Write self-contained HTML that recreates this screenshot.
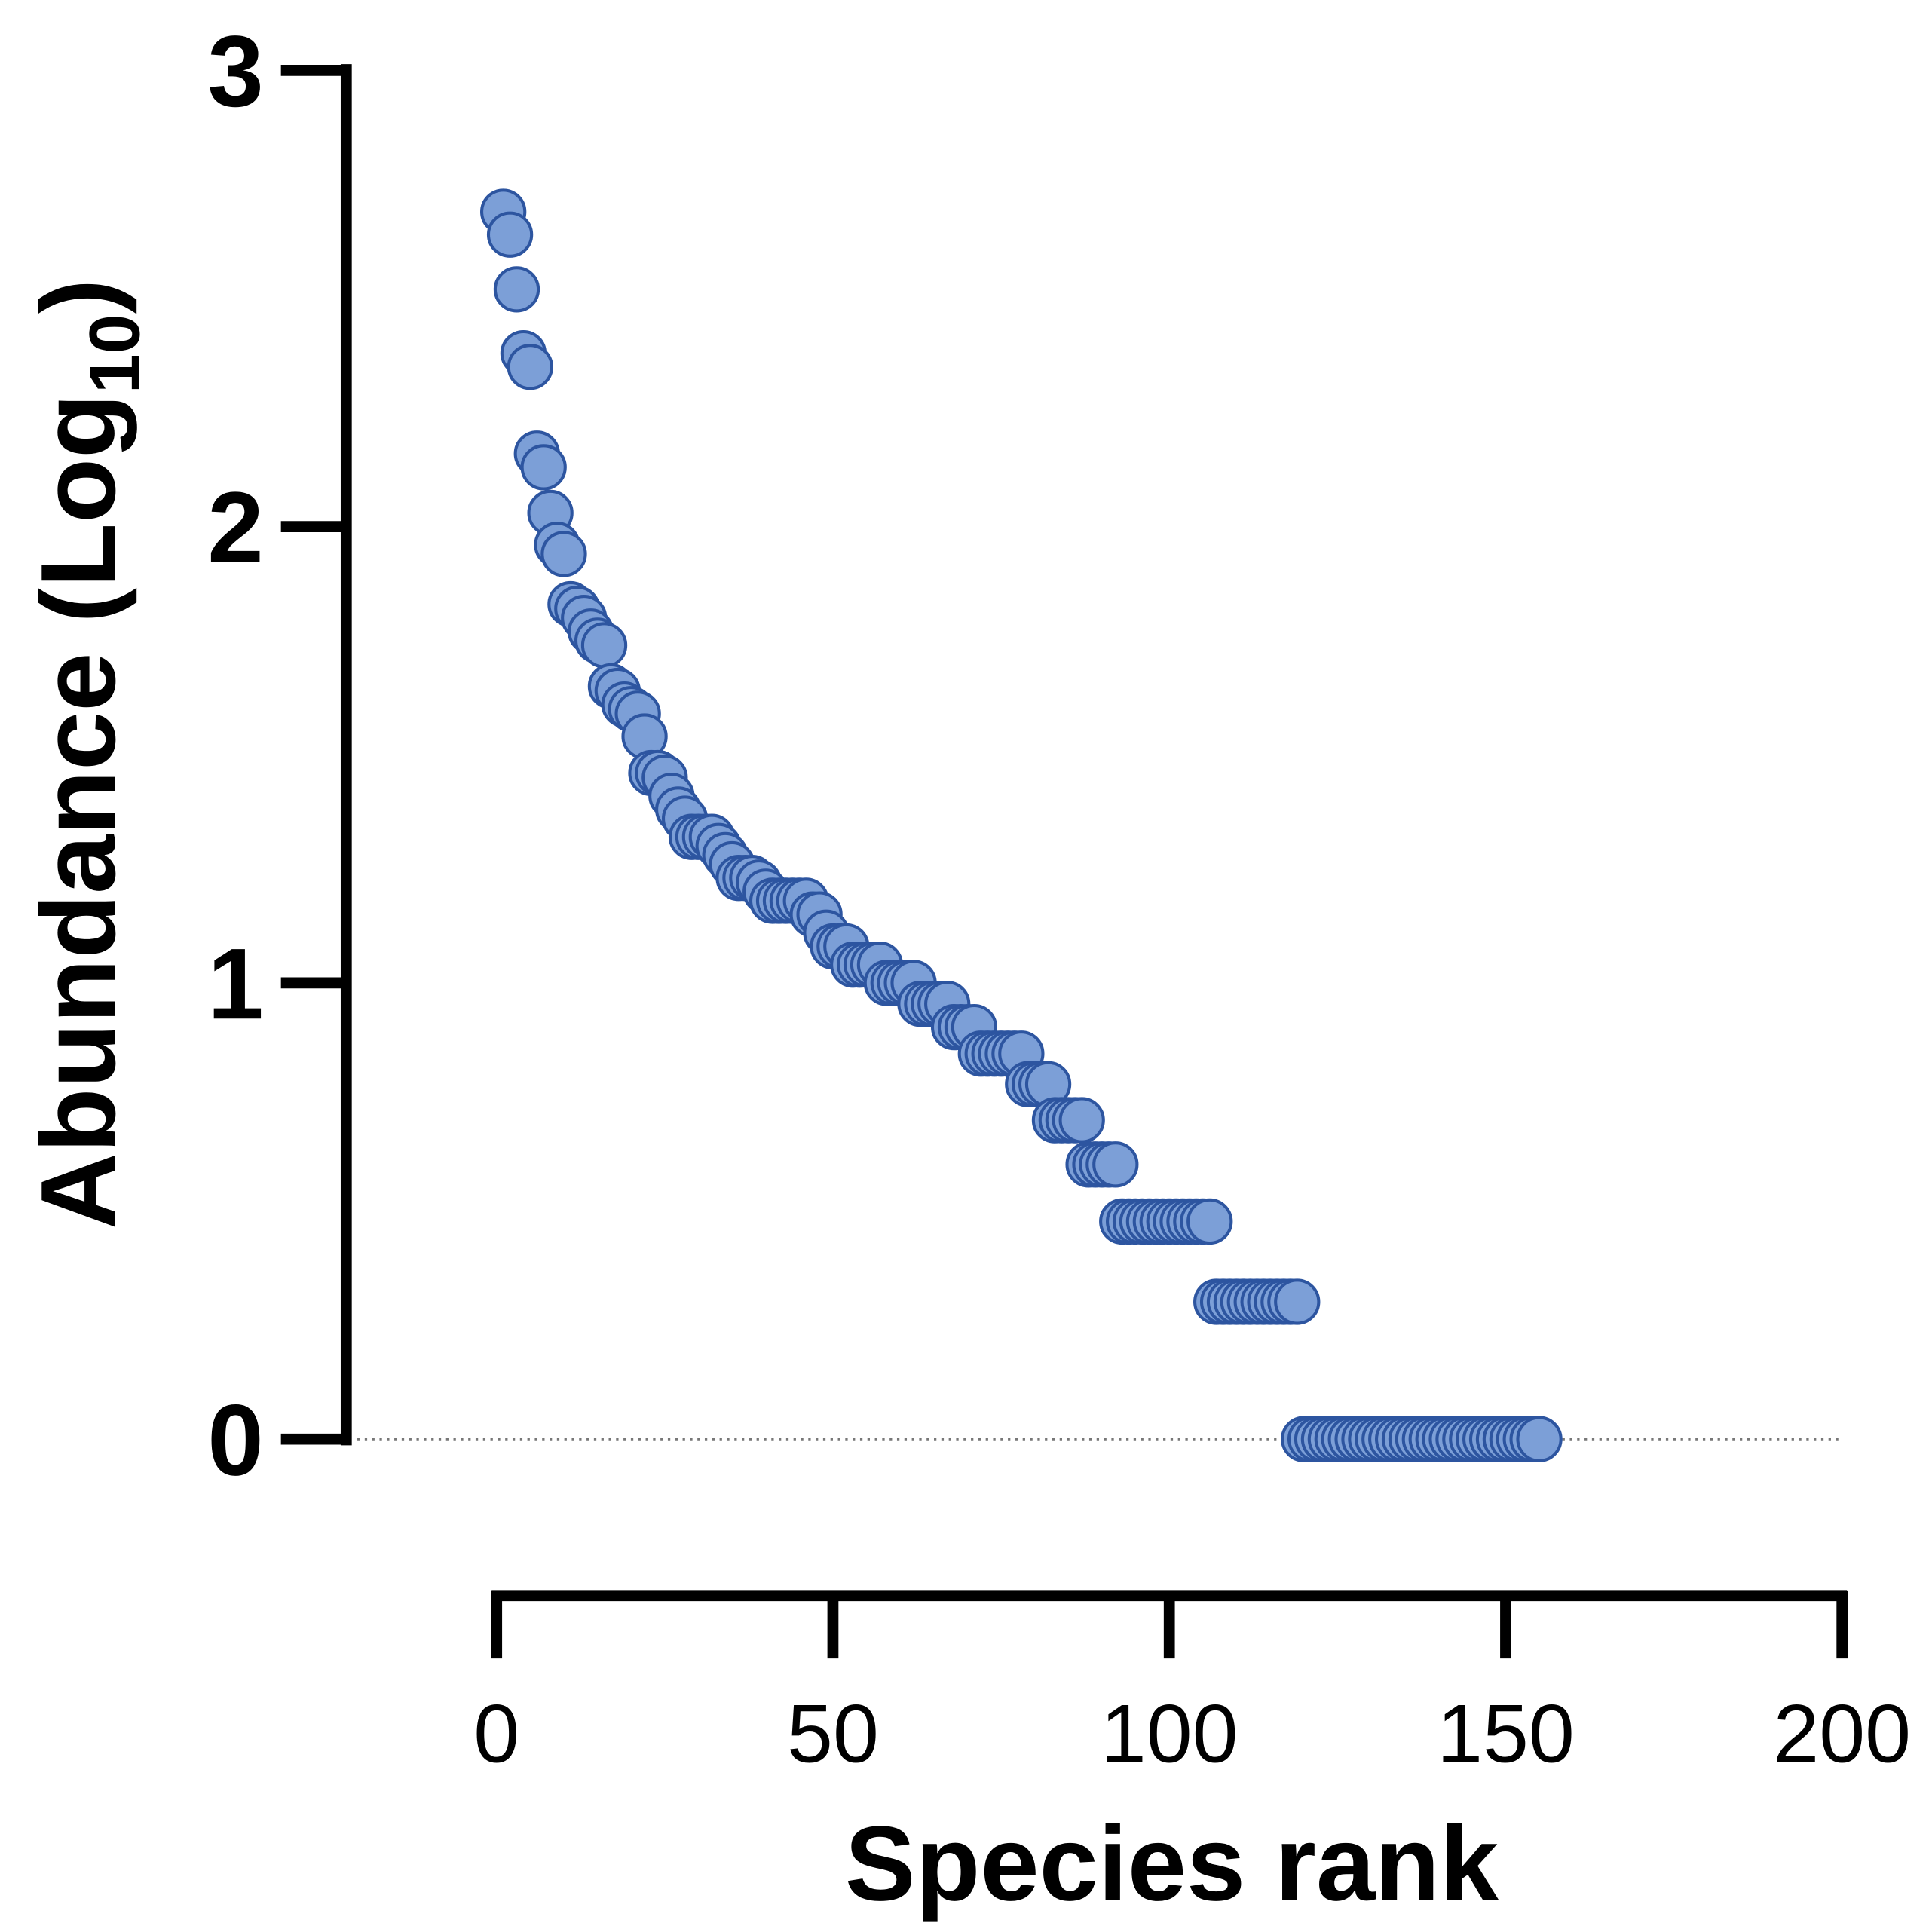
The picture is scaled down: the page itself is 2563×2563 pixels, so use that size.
<!DOCTYPE html>
<html><head><meta charset="utf-8"><style>
html,body{margin:0;padding:0;background:#fff;}
svg{display:block;}
</style></head><body>
<svg id="chart" width="2563" height="2563" viewBox="0 0 1568 1568" xmlns="http://www.w3.org/2000/svg" font-family="Liberation Sans, Arial, sans-serif">
<g id="axes"></g>
<g id="points"></g>
</svg>
<script>
const yTicks = [0, 1, 2, 3];
const xTicks = [0, 50, 100, 150, 200];
const abundance = [2.69,2.64,2.52,2.38,2.35,2.16,2.13,2.03,1.96,1.94,1.83,1.82,1.80,1.77,1.75,1.74,1.65,1.64,1.61,1.60,1.59,1.54,1.46,1.46,1.45,1.41,1.38,1.36,1.32,1.32,1.32,1.32,1.30,1.28,1.26,1.23,1.23,1.23,1.22,1.20,1.18,1.18,1.18,1.18,1.18,1.18,1.15,1.15,1.11,1.08,1.08,1.08,1.04,1.04,1.04,1.04,1.04,1.00,1.00,1.00,1.00,1.00,0.954,0.954,0.954,0.954,0.954,0.903,0.903,0.903,0.903,0.845,0.845,0.845,0.845,0.845,0.845,0.845,0.778,0.778,0.778,0.778,0.699,0.699,0.699,0.699,0.699,0.602,0.602,0.602,0.602,0.602,0.477,0.477,0.477,0.477,0.477,0.477,0.477,0.477,0.477,0.477,0.477,0.477,0.477,0.477,0.301,0.301,0.301,0.301,0.301,0.301,0.301,0.301,0.301,0.301,0.301,0.301,0.301,
0,0,0,0,0,0,0,0,0,0,0,0,0,0,0,0,0,0,0,0,0,0,0,0,0,0,0,0,0,0,0,0,0,0,0,0];
const NS='http://www.w3.org/2000/svg';
const xS = v => 403 + v * 5.46;
const yS = v => 1168 - v * 370.3;
const axes = document.getElementById('axes');
const pts = document.getElementById('points');
function mk(tag, attrs, parent){const e=document.createElementNS(NS,tag);for(const k in attrs)e.setAttribute(k,attrs[k]);parent.appendChild(e);return e;}
let bl = mk('line',{x1:290,x2:1495,y1:yS(0),y2:yS(0),stroke:'#777','stroke-width':2,'stroke-dasharray':'2,4'},axes);


let ya = mk('line',{x1:281,x2:281,y1:yS(3)-5,y2:yS(0)+5,stroke:'#000','stroke-width':9},axes);


yTicks.forEach(t=>{
  let l=mk('line',{x1:228,x2:281,y1:yS(t),y2:yS(t),stroke:'#000','stroke-width':9},axes);
  
  
  let tx=mk('text',{x:214,y:yS(t)+29,'text-anchor':'end','font-size':82,'font-weight':'bold'},axes);
  tx.textContent=t;
  
  
});
let xa = mk('line',{x1:xS(0)-4,x2:xS(200)+4,y1:1295,y2:1295,stroke:'#000','stroke-width':9},axes);


xTicks.forEach(t=>{
  let l=mk('line',{x1:xS(t),x2:xS(t),y1:1291,y2:1346,stroke:'#000','stroke-width':9},axes);
  
  
  let tx=mk('text',{x:xS(t),y:1430,'text-anchor':'middle','font-size':67},axes);
  tx.textContent=t;
  
  
});
let xt=mk('text',{x:951,y:1542,'text-anchor':'middle','font-size':86,'font-weight':'bold'},axes);
xt.textContent='Species rank';


let yt=mk('text',{x:0,y:0,'text-anchor':'middle','font-size':86,'font-weight':'bold',transform:'translate(93,612) rotate(-90)'},axes);


yt.innerHTML='Abundance (Log<tspan font-size="58" dy="20">10</tspan><tspan dy="-20">)</tspan>';
abundance.forEach((v,i)=>{
  let c=mk('circle',{cx:xS(i+1),cy:yS(v),r:17.5,fill:'#7c9fd7',stroke:'#2d55a0','stroke-width':2.5},pts);
  
  
});
</script>
</body></html>
